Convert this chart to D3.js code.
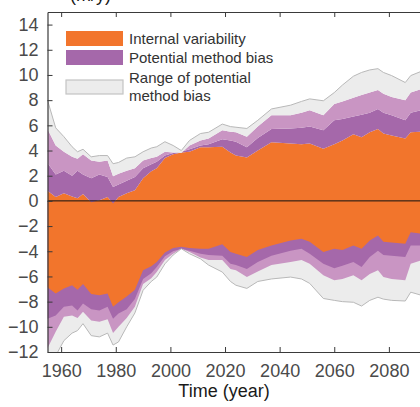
<!DOCTYPE html>
<html>
<head>
<meta charset="utf-8">
<script src="https://cdn.jsdelivr.net/npm/d3@7"></script>
<style>
  body { margin: 0; background: #fff; }
  svg { display: block; font-family: "Liberation Sans", Arial, sans-serif; }
</style>
</head>
<body>
<div id="chart"></div>
<script>
// sample years
var years = [1955, 1958, 1961, 1964, 1966, 1968, 1971, 1974, 1977, 1979, 1981, 1984, 1987, 1990, 1993, 1995, 1998, 2001, 2004, 2007,
  2011, 2014, 2019, 2022, 2024, 2028, 2032, 2037, 2044, 2048, 2051, 2056, 2060, 2063, 2067, 2070, 2073, 2076, 2078, 2081,
  2086, 2088, 2092, 2096, 2100];

// upper envelopes
var internalHi = [0.8, 0.3, 0.6, 0.35, 0.2, 0.55, -0.1, 0.05, 0.3, -0.2, 0.3, 0.6, 0.85, 1.8, 2.35, 2.6, 3.4, 3.7, 3.85, 3.9,
  4.25, 4.25, 4.3, 3.85, 3.6, 3.45, 4.0, 4.65, 4.55, 4.5, 4.55, 4.15, 4.5, 4.8, 5.3, 5.05, 5.45, 5.7, 5.35, 5.2,
  4.95, 5.45, 5.5, 5.3, 5.5];
var biasHi = [3.0, 2.1, 2.4, 2.0, 2.4, 2.1, 1.8, 2.1, 1.9, 1.1, 1.3, 1.6, 1.9, 2.6, 2.9, 3.1, 3.6, 3.8, 3.9, 4.1,
  4.4, 4.5, 4.9, 4.8, 4.7, 4.25, 5.0, 5.7, 5.75, 5.8, 5.9, 5.6, 6.4, 6.5, 6.7, 6.85, 7.0, 7.3, 7.0, 6.8,
  6.4, 7.0, 7.2, 7.0, 7.2];
var biasLightHi = [5.7, 4.4, 3.9, 3.5, 3.35, 3.7, 3.2, 3.1, 3.2, 1.95, 2.15, 2.4, 2.6, 3.2, 3.4, 3.5, 3.9, 3.85, 3.8, 4.4,
  4.8, 4.95, 5.6, 5.5, 5.45, 5.1, 5.9, 6.8, 6.8, 7.0, 7.2, 6.8, 7.7, 7.9, 8.2, 8.4, 8.6, 8.8, 8.5, 8.25,
  8.0, 8.6, 8.9, 8.7, 8.9];
var rangeHi = [8.0, 5.8, 5.1, 4.3, 3.9, 4.1, 3.5, 3.6, 3.6, 2.95, 3.05, 3.4, 3.5, 3.9, 4.2, 4.3, 4.7, 4.4, 4.0, 4.8,
  5.35, 5.45, 6.1, 5.9, 5.85, 5.75, 6.4, 7.3, 7.6, 7.9, 8.1, 7.95, 8.6, 9.2, 9.9, 10.2, 10.4, 10.5, 10.2, 9.95,
  9.4, 9.95, 10.3, 10.1, 10.4];

// lower envelopes
var internalLo = [-6.85, -7.35, -6.95, -6.7, -7.05, -6.6, -7.4, -7.5, -7.35, -8.4, -8.05, -7.6, -7.05, -5.5, -5.2, -4.85, -4.1, -3.75, -3.65, -3.75,
  -3.8, -3.8, -3.45, -4.05, -4.2, -4.45, -3.9, -3.55, -3.15, -3.0, -3.25, -4.05, -3.8, -3.9, -3.55, -3.8, -3.15, -2.75, -3.25, -3.3,
  -3.4, -2.5, -2.6, -2.8, -2.6];
var biasLo = [-9.35, -9.1, -8.4, -8.3, -8.7, -8.15, -8.6, -8.7, -8.4, -9.35, -8.95, -8.6, -7.8, -6.2, -5.75, -5.25, -4.4, -4.0, -3.8, -3.95,
  -4.2, -4.3, -4.35, -5.0, -5.1, -5.4, -4.85, -4.35, -3.95, -3.8, -4.2, -5.0, -5.35, -5.15, -4.85, -5.25, -4.45, -3.95, -4.3, -4.35,
  -4.45, -3.55, -3.55, -3.8, -3.6];
var biasLightLo = [-11.7, -10.4, -9.2, -9.1, -9.3, -8.8, -9.5, -9.6, -9.4, -10.5, -10.0, -9.3, -8.4, -6.6, -6.15, -5.65, -4.7, -4.2, -3.8, -4.05,
  -4.5, -4.7, -4.7, -5.4, -5.5, -6.05, -5.6, -5.1, -4.85, -4.7, -5.0, -5.9, -6.3, -6.2, -5.9, -6.3, -5.8, -5.5, -6.05, -6.2,
  -6.3, -5.0, -4.7, -5.0, -4.8];
var rangeLo = [-13.0, -12.3, -11.1, -10.5, -10.3, -9.75, -10.7, -10.8, -10.5, -11.45, -11.2, -10.0, -8.9, -7.1, -6.4, -6.05, -5.0, -4.3, -3.8, -4.2,
  -4.6, -5.1, -5.65, -6.4, -6.7, -6.95, -6.4, -6.2, -6.05, -6.2, -6.55, -7.75, -7.9, -8.0, -8.05, -8.35, -7.9, -7.65, -7.8, -7.9,
  -7.95, -7.25, -7.5, -7.7, -7.5];

var xTicks = [1960, 1980, 2000, 2020, 2040, 2060, 2080];
var yTicks = [-12, -10, -8, -6, -4, -2, 0, 2, 4, 6, 8, 10, 12, 14];
var legendItems = [
  { label: ['Internal variability'], key: 'orange' },
  { label: ['Potential method bias'], key: 'purple' },
  { label: ['Range of potential', 'method bias'], key: 'gray' },
];

var COLORS = {
  orange: '#f2752c',
  purple: '#a568aa',
  lightPurple: '#c995c3',
  gray: '#ececec',
  grayLine: '#b8b8b8',
  axis: '#3a3a3a',
  tickText: '#4a4a4a',
};

var width = 420;
var height = 407;
var plot = { left: 47.5, right: 443.5, top: 12, bottom: 352 };

var svg = d3.select('#chart')
  .append('svg')
  .attr('width', width)
  .attr('height', height);

var x = d3.scaleLinear().domain([1955, 2100]).range([plot.left, plot.right]);
var y = d3.scaleLinear().domain([-12, 15]).range([plot.bottom, plot.top]);

svg.append('clipPath')
  .attr('id', 'plot-clip')
  .append('rect')
  .attr('x', plot.left)
  .attr('y', plot.top)
  .attr('width', plot.right - plot.left)
  .attr('height', plot.bottom - plot.top);

var bands = svg.append('g').attr('clip-path', 'url(#plot-clip)');

var band = function (lo, hi, fill) {
  var area = d3.area()
    .x((d, i) => x(years[i]))
    .y0((d, i) => y(lo ? lo[i] : 0))
    .y1((d, i) => y(hi[i]));
  bands.append('path')
    .datum(years)
    .attr('d', area)
    .attr('fill', fill)
    .attr('stroke', 'none');
};

// lower half, outermost first
band(null, rangeLo, COLORS.gray);
band(null, biasLightLo, COLORS.lightPurple);
band(null, biasLo, COLORS.purple);
band(null, internalLo, COLORS.orange);

// upper half stacked from zero, like a matlab area() stack
band(null, internalHi, COLORS.orange);
band(internalHi, biasHi, COLORS.purple);
band(biasHi, biasLightHi, COLORS.lightPurple);
band(biasLightHi, rangeHi, COLORS.gray);

var line = function (vals) {
  var l = d3.line().x((d, i) => x(years[i])).y((d, i) => y(vals[i]));
  bands.append('path')
    .datum(years)
    .attr('d', l)
    .attr('fill', 'none')
    .attr('stroke', COLORS.grayLine)
    .attr('stroke-width', 1);
};
line(rangeHi);
line(rangeLo);

// zero line
bands.append('line')
  .attr('x1', plot.left)
  .attr('x2', plot.right)
  .attr('y1', y(0))
  .attr('y2', y(0))
  .attr('stroke', '#111')
  .attr('stroke-width', 1);

// axes (ticks pointing inward)
var bottomAxis = d3.axisBottom(x).tickValues(xTicks).tickFormat(d3.format('d')).tickSizeInner(-5).tickSizeOuter(0).tickPadding(12);
var topAxis = d3.axisTop(x).tickValues(xTicks).tickFormat('').tickSizeInner(-5).tickSizeOuter(0);
var leftAxis = d3.axisLeft(y).tickValues(yTicks).tickSizeInner(-5).tickSizeOuter(0).tickPadding(9);

var styleAxis = function (g) {
  g.select('.domain').attr('stroke', COLORS.axis).attr('stroke-width', 1.2);
  g.selectAll('.tick line').attr('stroke', COLORS.axis).attr('stroke-width', 1);
  g.selectAll('.tick text')
    .attr('fill', COLORS.tickText)
    .attr('font-size', 18)
    .attr('font-family', '"Liberation Sans", Arial, sans-serif');
};

svg.append('g')
  .attr('transform', `translate(0,${plot.bottom})`)
  .call(bottomAxis)
  .call(styleAxis);

svg.append('g')
  .attr('transform', `translate(0,${plot.top})`)
  .call(topAxis)
  .call(styleAxis);

svg.append('g')
  .attr('transform', `translate(${plot.left},0)`)
  .call(leftAxis)
  .call(styleAxis);

// axis title
svg.append('text')
  .attr('x', 224)
  .attr('y', 397)
  .attr('text-anchor', 'middle')
  .attr('font-size', 18)
  .attr('fill', '#1a1a1a')
  .text('Time (year)');

// panel title, mostly above the top edge as in the source crop
svg.append('text')
  .attr('x', 70)
  .attr('y', 0.5)
  .attr('font-size', 18)
  .attr('fill', '#1a1a1a')
  .text('(m/y)');

// legend
var legend = svg.append('g');
var swatchFill = { orange: COLORS.orange, purple: COLORS.purple, gray: COLORS.gray };
var swatchY = [31, 50, 80];
var labelY = [43.5, 63, 82.5];

legendItems.forEach(function (item, i) {
  legend.append('rect')
    .attr('x', 66)
    .attr('y', swatchY[i])
    .attr('width', 57)
    .attr('height', item.key === 'gray' ? 14 : 15)
    .attr('fill', swatchFill[item.key])
    .attr('stroke', item.key === 'gray' ? '#c4c4c4' : 'none')
    .attr('stroke-width', 1.2);

  var t = legend.append('text')
    .attr('x', 129)
    .attr('y', labelY[i])
    .attr('font-size', 15)
    .attr('fill', '#333');
  item.label.forEach(function (s, j) {
    t.append('tspan').attr('x', 129).attr('dy', j === 0 ? 0 : 18.5).text(s);
  });
});
</script>
</body>
</html>
